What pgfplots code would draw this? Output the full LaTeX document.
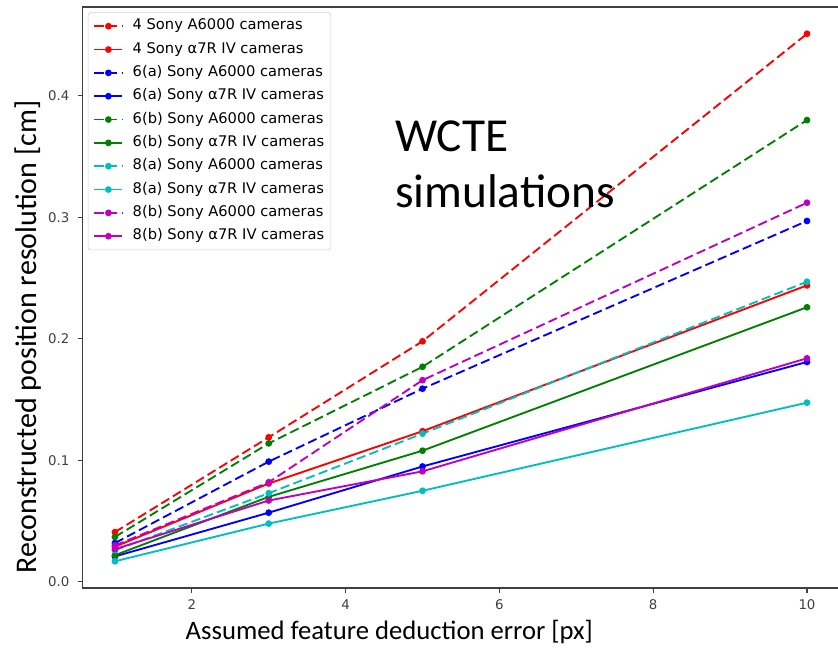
\documentclass[border=0pt]{standalone}
\usepackage{fontspec}
\setmainfont{DejaVu Sans}
\newfontfamily\calibri{Carlito}
\usepackage{pgfplots}
\pgfplotsset{compat=1.18}
\definecolor{mplr}{rgb}{1,0,0}
\definecolor{mplb}{rgb}{0,0,1}
\definecolor{mplg}{rgb}{0,0.5,0}
\definecolor{mplc}{rgb}{0,0.75,0.75}
\definecolor{mplm}{rgb}{0.75,0,0.75}

\pgfplotsset{
  dsh/.style={dash pattern=on 7pt off 3.2pt},
}

\begin{document}
\begin{tikzpicture}
% right spine falls just outside the page, as in the cropped original
\useasboundingbox (-62pt,-47.25pt) rectangle (566.5pt,441pt);
\begin{axis}[
  at={(0,0)}, anchor=south west,
  scale only axis,
  width=569.2pt, height=435.7pt,
  xmin=0.58, xmax=10.45,
  ymin=-0.005, ymax=0.473,
  xtick={2,4,6,8,10},
  ytick={0,0.1,0.2,0.3,0.4},
  /pgf/number format/assume math mode=true,
  ticklabel style={font=\fontsize{10}{12}\selectfont, text=black!75},
  yticklabel style={xshift=-3pt, /pgf/number format/fixed, /pgf/number format/fixed zerofill, /pgf/number format/precision=1},
  xticklabel style={yshift=-1.5pt},
  tick align=outside, tick pos=left,
  major tick length=3.5pt,
  tick style={black!75, line width=0.8pt},
  axis line style={black!75, line width=0.9pt},
  xlabel={Assumed feature deduction error [px]},
  ylabel={Reconstructed position resolution [cm]},
  xlabel style={font=\calibri\fontsize{20}{24}\selectfont, at={(axis description cs:0.404,-0.0757)}, anchor=center},
  ylabel style={font=\calibri\fontsize{22.5}{26}\selectfont, at={(axis description cs:-0.0715,0.432)}, anchor=center},
  every axis plot/.append style={line width=1.4pt, mark=*, mark size=1.8pt, mark options={solid}},
  legend cell align=left,
  legend style={at={(0.0068,0.991)}, anchor=north west, draw=black!20, rounded corners=2pt,
    fill=white, font=\fontsize{11}{13}\selectfont, row sep=5pt, column sep=6pt,
    inner xsep=4pt, inner ysep=4pt,
    nodes={inner sep=1pt, text height=8pt, text depth=2.5pt}},
  legend image code/.code={
    \draw[line width=1.4pt, mark repeat=2, mark phase=2] plot coordinates {(0cm,0cm) (0.37cm,0cm) (0.74cm,0cm)};
  },
]
\addplot[mplr, dsh] coordinates {(1,0.041) (3,0.119) (5,0.198) (10,0.451)};
\addlegendentry{4 Sony A6000 cameras}
\addplot[mplr] coordinates {(1,0.029) (3,0.081) (5,0.124) (10,0.244)};
\addlegendentry{4 Sony α7R IV cameras}
\addplot[mplb, dsh] coordinates {(1,0.032) (3,0.099) (5,0.159) (10,0.297)};
\addlegendentry{6(a) Sony A6000 cameras}
\addplot[mplb] coordinates {(1,0.021) (3,0.057) (5,0.095) (10,0.181)};
\addlegendentry{6(a) Sony α7R IV cameras}
\addplot[mplg, dsh] coordinates {(1,0.037) (3,0.114) (5,0.177) (10,0.380)};
\addlegendentry{6(b) Sony A6000 cameras}
\addplot[mplg] coordinates {(1,0.022) (3,0.070) (5,0.108) (10,0.226)};
\addlegendentry{6(b) Sony α7R IV cameras}
\addplot[mplc, dsh] coordinates {(1,0.026) (3,0.073) (5,0.122) (10,0.247)};
\addlegendentry{8(a) Sony A6000 cameras}
\addplot[mplc] coordinates {(1,0.017) (3,0.048) (5,0.075) (10,0.1475)};
\addlegendentry{8(a) Sony α7R IV cameras}
\addplot[mplm, dsh] coordinates {(1,0.030) (3,0.082) (5,0.166) (10,0.312)};
\addlegendentry{8(b) Sony A6000 cameras}
\addplot[mplm] coordinates {(1,0.027) (3,0.067) (5,0.091) (10,0.184)};
\addlegendentry{8(b) Sony α7R IV cameras}
\node[anchor=base west, font=\calibri\fontsize{35.5}{42}\selectfont, inner sep=0pt] at (axis cs:4.64,0.354) {WCTE};
\node[anchor=base west, font=\calibri\fontsize{35.5}{42}\selectfont, inner sep=0pt] at (axis cs:4.64,0.308) {simulations};
\end{axis}
\end{tikzpicture}
\end{document}
